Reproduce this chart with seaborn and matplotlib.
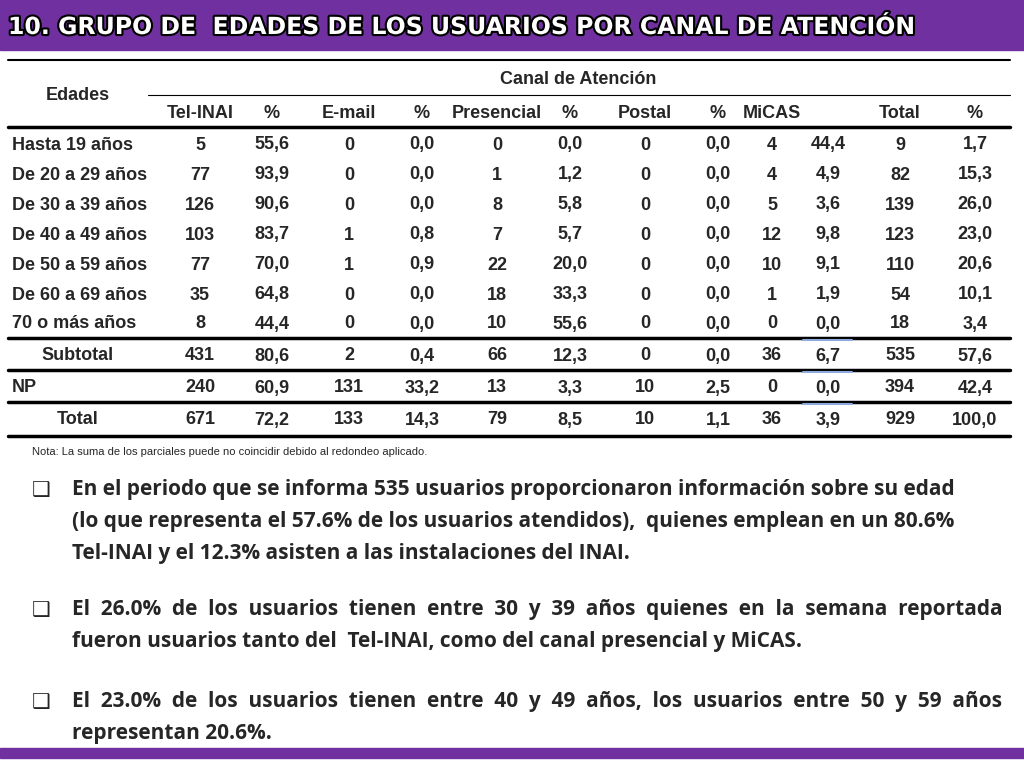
import matplotlib
matplotlib.use("Agg")
import matplotlib.pyplot as plt
import matplotlib.patheffects as pe
import seaborn as sns

sns.set_style("white")

edades = ["Hasta 19 años", "De 20 a 29 años", "De 30 a 39 años", "De 40 a 49 años",
          "De 50 a 59 años", "De 60 a 69 años", "70 o más años"]
tel = ["5", "77", "126", "103", "77", "35", "8"]
tel_p = ["55,6", "93,9", "90,6", "83,7", "70,0", "64,8", "44,4"]
email = ["0", "0", "0", "1", "1", "0", "0"]
email_p = ["0,0", "0,0", "0,0", "0,8", "0,9", "0,0", "0,0"]
pres = ["0", "1", "8", "7", "22", "18", "10"]
pres_p = ["0,0", "1,2", "5,8", "5,7", "20,0", "33,3", "55,6"]
postal = ["0", "0", "0", "0", "0", "0", "0"]
postal_p = ["0,0"] * 7
micas = ["4", "4", "5", "12", "10", "1", "0"]
micas_p = ["44,4", "4,9", "3,6", "9,8", "9,1", "1,9", "0,0"]
total = ["9", "82", "139", "123", "110", "54", "18"]
total_p = ["1,7", "15,3", "26,0", "23,0", "20,6", "10,1", "3,4"]

summary_labels = ["Subtotal", "NP", "Total"]
summary_rows = [
    ["431", "80,6", "2", "0,4", "66", "12,3", "0", "0,0", "36", "6,7", "535", "57,6"],
    ["240", "60,9", "131", "33,2", "13", "3,3", "10", "2,5", "0", "0,0", "394", "42,4"],
    ["671", "72,2", "133", "14,3", "79", "8,5", "10", "1,1", "36", "3,9", "929", "100,0"],
]
headers = ["Tel-INAI", "%", "E-mail", "%", "Presencial", "%", "Postal", "%", "MiCAS", "", "Total", "%"]

FONT = ["Liberation Sans Narrow", "Liberation Sans", "DejaVu Sans"]
PURPLE = "#7030A0"
VA = "center_baseline"

fig = plt.figure(figsize=(10.24, 7.68), dpi=100)
ax = fig.add_axes([0, 0, 1, 1])
ax.set_xlim(0, 1024); ax.set_ylim(768, 0); ax.axis("off")

ax.add_patch(plt.Rectangle((0, 0), 1024, 50, color=PURPLE))
ax.add_patch(plt.Rectangle((0, 748), 1024, 10, color=PURPLE))
ax.text(8, 27, "10. GRUPO DE  EDADES DE LOS USUARIOS POR CANAL DE ATENCIÓN",
        fontsize=17, fontweight="bold", color="white", va="center", family="DejaVu Sans",
        path_effects=[pe.withStroke(linewidth=3, foreground="black")])

cols = [200, 272, 349, 422, 497, 570, 645, 718, 772, 828, 900, 975]
fs = 13
ax.text(78, 94, "Edades", fontsize=fs, fontweight="bold", ha="center", va=VA, family=FONT)
ax.text(578, 78, "Canal de Atención", fontsize=fs, fontweight="bold", ha="center", va=VA, family=FONT)
ax.plot([148, 1010], [95, 95], color="black", lw=0.8)
for x, h in zip(cols, headers):
    ax.text(x, 111, h, fontsize=fs, fontweight="bold", ha="center", va=VA, family=FONT)
ax.plot([8, 1010], [60, 60], color="black", lw=1.5)
ax.plot([8, 1010], [127, 127], color="black", lw=2.5)

row_y = [143, 173, 203, 233, 263, 293, 322]
for i, y in enumerate(row_y):
    ax.text(12, y, edades[i], fontsize=fs, fontweight="bold", va=VA, family=FONT)
    vals = [tel[i], tel_p[i], email[i], email_p[i], pres[i], pres_p[i],
            postal[i], postal_p[i], micas[i], micas_p[i], total[i], total_p[i]]
    for x, v in zip(cols, vals):
        ax.text(x, y, v, fontsize=fs, fontweight="bold", ha="center", va=VA, family=FONT)

sum_y = [354, 386, 418]
label_x = [78, 12, 78]
label_ha = ["center", "left", "center"]
for lab, y, lx, ha, vals in zip(summary_labels, sum_y, label_x, label_ha, summary_rows):
    ax.text(lx, y, lab, fontsize=fs, fontweight="bold", ha=ha, va=VA, family=FONT)
    for x, v in zip(cols, vals):
        ax.text(x, y, v, fontsize=fs, fontweight="bold", ha="center", va=VA, family=FONT)
for y in [338, 370, 402, 436]:
    ax.plot([8, 1010], [y, y], color="black", lw=2.5)
for y in [338, 370, 402]:
    ax.plot([803, 852], [y + 2, y + 2], color="#8EA9DB", lw=1.5)

ax.text(32, 452, "Nota: La suma de los parciales puede no coincidir debido al redondeo aplicado.",
        fontsize=8, va="center", family=FONT)

bullets = [
    (490, ["En el periodo que se informa 535 usuarios proporcionaron información sobre su edad",
           "(lo que representa el 57.6% de los usuarios atendidos),  quienes emplean en un 80.6%",
           "Tel-INAI y el 12.3% asisten a las instalaciones del INAI."]),
    (610, ["El  26.0%  de  los  usuarios  tienen  entre  30  y  39  años  quienes  en  la  semana  reportada",
           "fueron usuarios tanto del  Tel-INAI, como del canal presencial y MiCAS."]),
    (702, ["El  23.0%  de  los  usuarios  tienen  entre  40  y  49  años,  los  usuarios  entre  50  y  59  años",
           "representan 20.6%."]),
]
for y0, lines in bullets:
    ax.text(32, y0, "❑", fontsize=15, va="center", family="DejaVu Sans")
    for k, line in enumerate(lines):
        ax.text(72, y0 + k * 32, line, fontsize=15, fontweight="bold", va="center",
                family=["Open Sans", "DejaVu Sans"])

fig.savefig("out.png", dpi=100)
